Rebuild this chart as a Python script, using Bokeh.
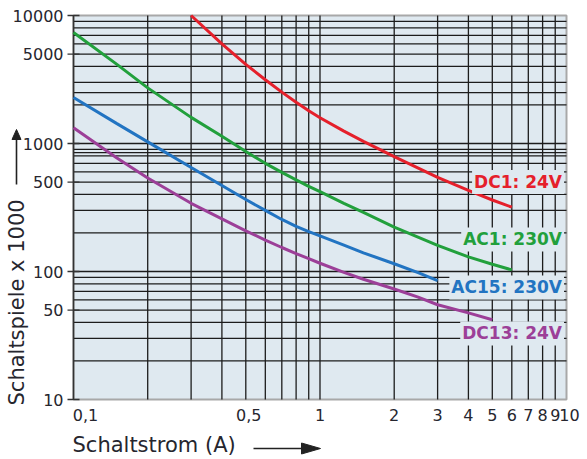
from bokeh.plotting import figure
from bokeh.models import Range1d, ColumnDataSource
from bokeh.embed import file_html
from bokeh.resources import INLINE
from bokeh.core.properties import value
import math

# ---- data ----
dc1_I = [0.3, 0.4, 0.5, 0.6, 0.7, 0.8, 0.9, 1, 1.25, 1.5, 2, 3, 4, 5, 6]
dc1_N = [10000, 6000, 4150, 3150, 2520, 2100, 1800, 1590, 1250, 1040, 790, 543, 430, 362, 318]

ac1_I = [0.1, 0.15, 0.2, 0.3, 0.4, 0.5, 0.6, 0.7, 0.8, 0.9, 1, 1.25, 1.5, 2, 3, 4, 5, 6]
ac1_N = [7360, 4150, 2720, 1600, 1140, 865, 700, 595, 520, 462, 420, 341, 290, 222, 160, 130, 114, 103]

ac15_I = [0.1, 0.15, 0.2, 0.3, 0.4, 0.5, 0.6, 0.7, 0.8, 0.9, 1, 1.25, 1.5, 2, 2.5, 3]
ac15_N = [2290, 1430, 1030, 650, 470, 365, 300, 255, 225, 205, 190, 161, 140, 115, 98, 85]

dc13_I = [0.1, 0.15, 0.2, 0.3, 0.4, 0.5, 0.6, 0.7, 0.8, 0.9, 1, 1.25, 1.5, 2, 2.5, 3, 4, 5]
dc13_N = [1330, 770, 537, 341, 258, 208, 176, 154, 138, 126, 116, 98.5, 87, 73, 63, 55, 47.5, 42]

series_names = ["DC1: 24V", "AC1: 230V", "AC15: 230V", "DC13: 24V"]
series_colors = ["#e5202b", "#22a03c", "#2274c2", "#9c3f98"]
label_x = [9.77, 9.77, 9.77, 9.77]
label_y = [500, 178, 75, 32.8]

x_min, x_max = 0.1, 10
y_min, y_max = 10, 10000

yticks = [10, 50, 100, 500, 1000, 5000, 10000]
ytick_labels = ["10", "50", "100", "500", "1000", "5000", "10000"]
ygrid_vals = [20, 30, 40, 50, 60, 70, 80, 90, 100,
              200, 300, 400, 500, 600, 700, 800, 850, 900, 1000,
              2000, 2500, 3000, 4000, 5000, 6000, 7000, 8000, 9000]

xticks = [0.1, 0.5, 1, 2, 3, 4, 5, 6, 7, 8, 9, 10]
xtick_labels = ["0,1", "0,5", "1", "2", "3", "4", "5", "6", "7", "8", "9", "10"]
xgrid_vals = [0.2, 0.3, 0.4, 0.5, 0.6, 0.7, 0.8, 0.9, 1, 2, 3, 4, 5, 6, 7, 8, 9]

x_title = "Schaltstrom (A)"
y_title = "Schaltspiele x 1000"

# ---- layout (pixels) ----
W, H = 587, 459
PX_L, PX_R, PX_T, PX_B = 73, 566, 15, 399
DEC_X = (PX_R - PX_L) / math.log10(x_max / x_min)
DEC_Y = (PX_B - PX_T) / math.log10(y_max / y_min)


def x_at(px):
    return x_min * 10 ** ((px - PX_L) / DEC_X)


def y_at(py):
    return y_max * 10 ** (-(py - PX_T) / DEC_Y)


FONT = "DejaVu Sans"
TXT = "#26262e"
BG = "#dfe9f0"
GRID = "#1c1c1c"
DARK = "#222222"

p = figure(width=W, height=H, x_axis_type="log", y_axis_type="log",
           x_axis_location=None, y_axis_location=None, title=None,
           x_range=Range1d(x_at(0), x_at(W)), y_range=Range1d(y_at(H), y_at(0)),
           output_backend="svg", toolbar_location=None, min_border=0)
p.outline_line_color = None
p.background_fill_color = "white"
p.border_fill_color = "white"
p.grid.visible = False

# plot area
p.quad(left=[x_min], right=[x_max], bottom=[y_min], top=[y_max],
       fill_color=BG, line_color="#a8a8a8", line_width=2)

# grid lines
p.segment(x0=xgrid_vals, y0=[y_min] * len(xgrid_vals), x1=xgrid_vals, y1=[y_max] * len(xgrid_vals),
          line_color=GRID, line_width=1.3)
p.segment(x0=[x_min] * len(ygrid_vals), y0=ygrid_vals, x1=[x_max] * len(ygrid_vals), y1=ygrid_vals,
          line_color=GRID, line_width=1.3)

# left axis line + ticks
p.segment(x0=[x_min], y0=[y_min], x1=[x_min], y1=[y_max], line_color="#333333", line_width=1.6)
p.scatter(x=[x_min] * len(yticks), y=yticks, marker="dash", size=12,
          line_color="#333333", line_width=1.3)

# curves
for xs, ys, c in zip([dc1_I, ac1_I, ac15_I, dc13_I], [dc1_N, ac1_N, ac15_N, dc13_N], series_colors):
    p.line(xs, ys, line_color=c, line_width=3)

# curve labels
lab_src = ColumnDataSource(dict(x=label_x, y=label_y, text=series_names, color=series_colors))
p.text(x="x", y="y", text="text", source=lab_src, text_color="color",
       text_align="right", text_baseline="middle",
       text_font=value(FONT), text_font_style="bold", text_font_size="17px",
       background_fill_color=BG, padding=2)

# y tick labels
p.text(x=[x_min] * len(yticks), y=yticks, text=ytick_labels, x_offset=-10,
       text_align="right", text_baseline="middle",
       text_font=value(FONT), text_font_size="16px", text_color=TXT)

# x tick labels
xtick_shift = [12, 3, 0, 0, 0, 0, 0, 0, 0, 0, 0, 3]
xsrc = ColumnDataSource(dict(x=xticks, y=[y_min] * len(xticks), text=xtick_labels, dx=xtick_shift))
p.text(x="x", y="y", text="text", source=xsrc, x_offset="dx", y_offset=15,
       text_align="center", text_baseline="middle",
       text_font=value(FONT), text_font_size="16px", text_color=TXT)

# axis titles
p.text(x=[x_at(72)], y=[y_at(444)], text=[x_title], text_align="left", text_baseline="middle",
       text_font=value(FONT), text_font_size="21px", text_color=TXT)
p.text(x=[x_at(16)], y=[y_at(405)], text=[y_title], angle=math.pi / 2,
       text_align="left", text_baseline="middle",
       text_font=value(FONT), text_font_size="21px", text_color=TXT)

# arrows (shaft + head)
p.segment(x0=[x_at(253), x_at(16)], y0=[y_at(448), y_at(184)],
          x1=[x_at(303), x_at(16)], y1=[y_at(448), y_at(138)],
          line_color=DARK, line_width=1.6)
p.patches(xs=[[x_at(301), x_at(320), x_at(301)], [x_at(11.5), x_at(16), x_at(20.5)]],
          ys=[[y_at(442.5), y_at(448), y_at(453.5)], [y_at(139), y_at(129), y_at(139)]],
          fill_color=DARK, line_color=DARK, line_width=1)

open("out.html", "w").write(file_html(p, INLINE))
